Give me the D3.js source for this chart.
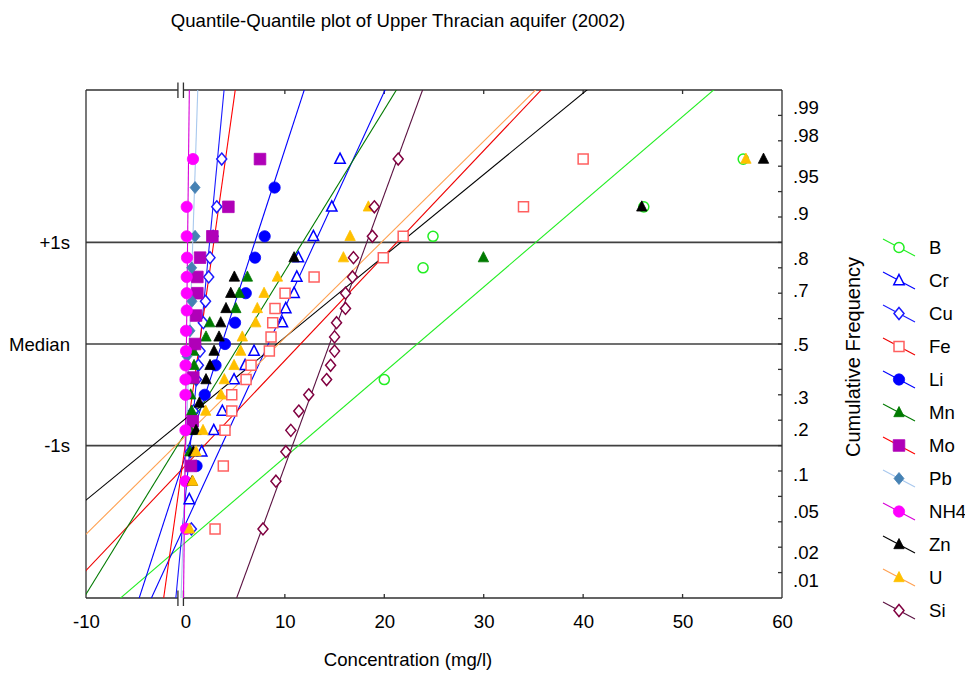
<!DOCTYPE html>
<html><head><meta charset="utf-8">
<script src="https://cdn.jsdelivr.net/npm/d3@7"></script>
<style>body{margin:0;background:#fff} svg{display:block;font-family:"Liberation Sans",Arial,sans-serif}</style>
</head><body>
<svg id="chart" width="965" height="675"></svg>
<script>
// ---------------- data ----------------
const seriesNames = ["B","Cr","Cu","Fe","Li","Mn","Mo","Pb","NH4","Zn","U","Si"];
// concentration (mg/l) and normal score of each plotted point
const B_conc  = [20.0, 23.9, 24.9, 46.1, 56.1];
const B_z     = [-0.35, 0.75, 1.06, 1.35, 1.82];
const Cr_conc = [0.39, 1.64, 2.85, 3.71, 4.89, 6.0, 6.9, 9.75, 10.09, 10.93, 11.2, 11.36, 12.87, 14.72, 15.55];
const Cr_z    = [-1.53, -1.06, -0.85, -0.66, -0.35, -0.21, -0.07, 0.21, 0.35, 0.50, 0.66, 0.85, 1.06, 1.35, 1.82];
const Cu_conc = [0.6, 0.5, 0.8, 1.1, 1.3, 1.47, 1.8, 2.02, 2.34, 2.47, 2.78, 3.15, 3.65];
const Cu_z    = [-1.82, -1.06, -0.66, -0.35, -0.21, -0.07, 0.21, 0.42, 0.66, 0.85, 1.06, 1.35, 1.82];
const Fe_conc = [2.98, 3.81, 3.98, 4.66, 4.66, 6.1, 6.6, 8.44, 8.61, 8.78, 9.01, 10.02, 12.94, 19.9, 21.9, 34.0, 40.0];
const Fe_z    = [-1.82, -1.20, -0.85, -0.66, -0.50, -0.35, -0.21, -0.07, 0.07, 0.21, 0.35, 0.50, 0.66, 0.85, 1.06, 1.35, 1.82];
const Li_conc = [1.12, 1.94, 3.03, 3.98, 4.99, 6.07, 7.0, 7.97, 8.97];
const Li_z    = [-1.20, -0.50, -0.21, 0.0, 0.21, 0.50, 0.85, 1.06, 1.54];
const Mn_conc = [0.46, 0.51, 0.63, 0.53, 0.66, 0.87, 0.8, 2.07, 2.44, 5.07, 5.42, 6.23, 29.97];
const Mn_z    = [-1.06, -0.85, -0.66, -0.50, -0.35, -0.21, -0.07, 0.07, 0.21, 0.35, 0.50, 0.66, 0.85];
const Mo_conc = [0.56, 0.73, 0.79, 0.97, 1.07, 1.2, 1.2, 1.47, 2.71, 4.32, 7.5];
const Mo_z    = [-1.20, -0.76, -0.33, 0.0, 0.28, 0.50, 0.66, 0.85, 1.06, 1.35, 1.82];
const Pb_conc = [0.16, 0.46, 0.66, 0.63, 0.97, 0.97];
const Pb_z    = [-0.12, 0.13, 0.42, 0.75, 1.06, 1.54];
const NH4_conc= [0.06, 0.0, 0.0, 0.0, 0.0, 0.01, 0.06, 0.06, 0.13, 0.13, 0.13, 0.16, 0.13, 0.13, 0.76];
const NH4_z   = [-1.82, -1.35, -0.85, -0.50, -0.35, -0.21, -0.07, 0.13, 0.33, 0.50, 0.66, 0.85, 1.06, 1.35, 1.82];
const Zn_conc = [0.69, 0.8, 1.07, 1.4, 2.07, 2.47, 2.88, 3.38, 3.55, 4.08, 4.56, 4.92, 10.93, 45.9, 58.14];
const Zn_z    = [-1.35, -1.06, -0.85, -0.58, -0.35, -0.21, -0.07, 0.07, 0.21, 0.35, 0.50, 0.66, 0.85, 1.35, 1.82];
const U_conc  = [0.41, 0.73, 1.07, 1.77, 2.04, 3.58, 3.91, 4.89, 5.56, 5.72, 7.07, 7.23, 7.91, 9.25, 15.89, 16.56, 18.4, 56.37];
const U_z     = [-1.82, -1.35, -1.06, -0.85, -0.66, -0.50, -0.35, -0.21, -0.07, 0.07, 0.21, 0.35, 0.50, 0.66, 0.85, 1.06, 1.35, 1.82];
const Si_conc = [7.8, 9.1, 10.1, 10.6, 11.4, 12.4, 14.2, 14.6, 15.0, 15.0, 15.2, 16.1, 16.1, 16.8, 16.9, 18.8, 19.0, 21.4];
const Si_z    = [-1.82, -1.35, -1.06, -0.85, -0.66, -0.50, -0.35, -0.21, -0.07, 0.07, 0.21, 0.35, 0.50, 0.66, 0.85, 1.06, 1.35, 1.82];
// fitted normal line of each series: concentration = mean + sd * z
const fitMean = [23.3, 8.33, 1.46, 11.58, 3.65, 5.49, 1.41, 0.40, 0.10, 9.18, 9.36, 14.5];
const fitSd   = [11.93, 4.70, 0.97, 9.68, 3.32, 6.29, 1.44, 0.336, 0.117, 12.48, 10.34, 3.74];

const xTicks = [-10, 0, 10, 20, 30, 40, 50, 60];
const freqTicks  = [0.99, 0.98, 0.95, 0.9, 0.8, 0.7, 0.5, 0.3, 0.2, 0.1, 0.05, 0.02, 0.01];
const freqLabels = [".99", ".98", ".95", ".9", ".8", ".7", ".5", ".3", ".2", ".1", ".05", ".02", ".01"];
const zMinorTicks = [-2.25,-2,-1.75,-1.5,-1.25,-1,-0.75,-0.5,-0.25,0,0.25,0.5,0.75,1,1.25,1.5,1.75,2,2.25];
const sigmaLevels = [1, 0, -1];
const sigmaLabels = ["+1s", "Median", "-1s"];

const concs = [B_conc, Cr_conc, Cu_conc, Fe_conc, Li_conc, Mn_conc, Mo_conc, Pb_conc, NH4_conc, Zn_conc, U_conc, Si_conc];
const zs    = [B_z, Cr_z, Cu_z, Fe_z, Li_z, Mn_z, Mo_z, Pb_z, NH4_z, Zn_z, U_z, Si_z];

// ---------------- styles ----------------
const styles = [
  {line:"#22ee22", stroke:"#22ee22", fill:"#fff",    shape:"circle",  open:true},
  {line:"#0000ff", stroke:"#0000ff", fill:"#fff",    shape:"triangle",open:true},
  {line:"#1a1aff", stroke:"#1a1aff", fill:"#fff",    shape:"diamond", open:true},
  {line:"#ee0000", stroke:"#ff6060", fill:"#fff",    shape:"square",  open:true},
  {line:"#0000ff", stroke:"#0000ff", fill:"#0000ff", shape:"circle",  open:false},
  {line:"#007a00", stroke:"#007a00", fill:"#007a00", shape:"triangle",open:false},
  {line:"#ff0000", stroke:"#b000b8", fill:"#b000b8", shape:"square",  open:false},
  {line:"#a8c8ee", stroke:"#4682b4", fill:"#4682b4", shape:"diamond", open:false},
  {line:"#d800d8", stroke:"#ff00ff", fill:"#ff00ff", shape:"circle",  open:false},
  {line:"#000000", stroke:"#000000", fill:"#000000", shape:"triangle",open:false},
  {line:"#ffa050", stroke:"#ffc000", fill:"#ffc000", shape:"triangle",open:false},
  {line:"#5a1040", stroke:"#800040", fill:"#fff",    shape:"diamond", open:true}
];
function shapePath(shape, open){
  if(shape==="circle") return d3.symbol(d3.symbolCircle, open?80:100)();
  if(shape==="triangle") return "M0,-6L5.2,4.2L-5.2,4.2Z";
  if(shape==="square") return open? "M-5,-5h10v10h-10Z" : "M-5.8,-5.8h11.6v11.6h-11.6Z";
  return "M0,-6L5,0L0,6L-5,0Z";
}

// ---------------- inverse normal ----------------
function invNorm(p){
  const a=[-3.969683028665376e+01,2.209460984245205e+02,-2.759285104469687e+02,1.383577518672690e+02,-3.066479806614716e+01,2.506628277459239e+00];
  const b=[-5.447609879822406e+01,1.615858368580409e+02,-1.556989798598866e+02,6.680131188771972e+01,-1.328068155288572e+01];
  const c=[-7.784894002430293e-03,-3.223964580411365e-01,-2.400758277161838e+00,-2.549732539343734e+00,4.374664141464968e+00,2.938163982698783e+00];
  const d=[7.784695709041462e-03,3.224671290700398e-01,2.445134137142996e+00,3.754408661907416e+00];
  const pl=0.02425; let q,r;
  if(p<pl){q=Math.sqrt(-2*Math.log(p));return (((((c[0]*q+c[1])*q+c[2])*q+c[3])*q+c[4])*q+c[5])/((((d[0]*q+d[1])*q+d[2])*q+d[3])*q+1);}
  if(p<=1-pl){q=p-0.5;r=q*q;return (((((a[0]*r+a[1])*r+a[2])*r+a[3])*r+a[4])*r+a[5])*q/(((((b[0]*r+b[1])*r+b[2])*r+b[3])*r+b[4])*r+1);}
  q=Math.sqrt(-2*Math.log(1-p));return -(((((c[0]*q+c[1])*q+c[2])*q+c[3])*q+c[4])*q+c[5])/((((d[0]*q+d[1])*q+d[2])*q+d[3])*q+1);
}

// ---------------- chart ----------------
const Lx=86, Rx=782, Ty=90, By=598;
const svg = d3.select("#chart");
const x = d3.scaleLinear().domain([-10, 60]).range([Lx, Rx]);
const y = d3.scaleLinear().domain([-2.5, 2.5]).range([By, Ty]);
const FS = 18.6;
const axisCol = "#303030";

svg.append("defs").append("clipPath").attr("id","clip")
  .append("rect").attr("x",Lx).attr("y",Ty).attr("width",Rx-Lx).attr("height",By-Ty);

// title
svg.append("text").attr("x",398).attr("y",26.5).attr("text-anchor","middle")
  .style("font-size",FS+"px").text("Quantile-Quantile plot of Upper Thracian aquifer (2002)");

// sigma lines
sigmaLevels.forEach((s,i)=>{
  svg.append("line").attr("x1",Lx).attr("x2",Rx).attr("y1",y(s)).attr("y2",y(s))
    .attr("stroke","#404040").attr("stroke-width",1.6);
  svg.append("text").attr("x",70).attr("y",y(s)+6.5).attr("text-anchor","end")
    .style("font-size",FS+"px").text(sigmaLabels[i]);
});

// frame with axis break at 0
const x0 = x(0);
const gapL = x0-7.5, gapR = x0-2;
const frame = svg.append("g").attr("stroke",axisCol).attr("stroke-width",1.3).attr("fill","none");
frame.append("line").attr("x1",Lx).attr("x2",Lx).attr("y1",Ty).attr("y2",By);
frame.append("line").attr("x1",Rx).attr("x2",Rx).attr("y1",Ty).attr("y2",By);
[Ty,By].forEach(yy=>{
  frame.append("line").attr("x1",Lx).attr("x2",gapL).attr("y1",yy).attr("y2",yy);
  frame.append("line").attr("x1",gapR).attr("x2",Rx).attr("y1",yy).attr("y2",yy);
  [gapL,gapR].forEach(gx=>frame.append("line").attr("x1",gx).attr("x2",gx).attr("y1",yy-7.5).attr("y2",yy+8));
});

// x ticks (inward) and labels via d3 axis
const xAxis = d3.axisBottom(x).tickValues(xTicks).tickSize(0).tickPadding(0).tickFormat(d=>String(d));
const gx = svg.append("g").attr("transform",`translate(0,${By})`).call(xAxis);
gx.select(".domain").remove();
gx.selectAll("text").attr("y",29.5).attr("dy",null).style("font-size",FS+"px").style("font-family","'Liberation Sans',Arial,sans-serif").attr("fill","#000");
xTicks.filter(v=>v>0 && v<60).forEach(v=>{
  frame.append("line").attr("x1",x(v)).attr("x2",x(v)).attr("y1",By).attr("y2",By-4);
  frame.append("line").attr("x1",x(v)).attr("x2",x(v)).attr("y1",Ty).attr("y2",Ty+4);
});
svg.append("text").attr("x",408).attr("y",666).attr("text-anchor","middle")
  .style("font-size",FS+"px").text("Concentration (mg/l)");

// right axis: cumulative frequency
zMinorTicks.forEach(z=>{
  frame.append("line").attr("x1",Rx).attr("x2",Rx-4).attr("y1",y(z)).attr("y2",y(z));
});
freqTicks.forEach((p,i)=>{
  svg.append("text").attr("x",793).attr("y",y(invNorm(p))+6.5)
    .style("font-size",FS+"px").text(freqLabels[i]);
});
svg.append("text").attr("transform","translate(860,357) rotate(-90)").attr("text-anchor","middle")
  .style("font-size","20px").text("Cumulative Frequency");

// fitted lines
const plot = svg.append("g").attr("clip-path","url(#clip)");
const lineGen = d3.line().x(d=>x(d[0])).y(d=>y(d[1]));
seriesNames.forEach((n,i)=>{
  const pts = [-2.6, 2.6].map(z=>[fitMean[i]+fitSd[i]*z, z]);
  plot.append("path").attr("d",lineGen(pts)).attr("stroke",styles[i].line)
    .attr("stroke-width",1.1).attr("fill","none");
});
// points
seriesNames.forEach((n,i)=>{
  const st = styles[i];
  const data = concs[i].map((c,k)=>[c, zs[i][k]]);
  plot.append("g").selectAll("path").data(data).join("path")
    .attr("transform",d=>`translate(${x(d[0])},${y(d[1])})`)
    .attr("d",shapePath(st.shape, st.open))
    .attr("fill",st.fill).attr("stroke",st.stroke).attr("stroke-width",st.open?1.5:0.8);
});

// legend
const lg = svg.append("g");
seriesNames.forEach((n,i)=>{
  const st = styles[i];
  const ly = 247.5 + i*33;
  lg.append("line").attr("x1",883).attr("y1",ly-8.5).attr("x2",915).attr("y2",ly+8.5)
    .attr("stroke",st.line).attr("stroke-width",1.1);
  lg.append("path").attr("transform",`translate(899,${ly})`).attr("d",shapePath(st.shape, st.open))
    .attr("fill",st.fill).attr("stroke",st.stroke).attr("stroke-width",st.open?1.5:0.8);
  lg.append("text").attr("x",929).attr("y",ly+6.5).style("font-size",FS+"px").text(n);
});
</script>
</body></html>
